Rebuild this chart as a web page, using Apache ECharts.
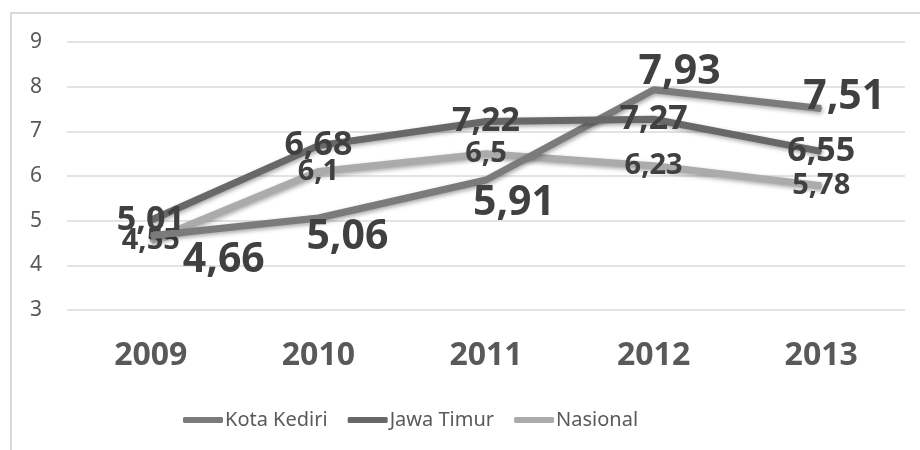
<!DOCTYPE html>
<html>
<head>
<meta charset="utf-8">
<script src="https://cdn.jsdelivr.net/npm/echarts@6/dist/echarts.min.js"></script>
<style>
  html, body { margin: 0; padding: 0; background: #fff; }
  #chart { width: 920px; height: 450px; }
</style>
</head>
<body>
<div id="chart"></div>
<script>
const years = ['2009', '2010', '2011', '2012', '2013'];
const kotaKediri = [4.66, 5.06, 5.91, 7.93, 7.51];
const jawaTimur = [5.01, 6.68, 7.22, 7.27, 6.55];
const nasional = [4.55, 6.1, 6.5, 6.23, 5.78];

// label offsets for the big Kota Kediri labels (px)
const kotaLabelOffsets = [[73, 24], [29, 19], [28, 23], [26, -17], [23, -11]];

const chart = echarts.init(document.getElementById('chart'));

const fmt = p => String(p.value).replace('.', ',');
const shadow = { shadowBlur: 4, shadowColor: 'rgba(0,0,0,0.35)', shadowOffsetX: 1, shadowOffsetY: 2 };

function lineSeries(name, data, color, z, fontSize) {
  return {
    name: name,
    type: 'line',
    data: data,
    symbol: 'circle',
    symbolSize: 2,
    showSymbol: true,
    color: color,
    itemStyle: { color: color },
    lineStyle: Object.assign({ width: 7, color: color }, shadow),
    z: z,
    label: {
      show: true,
      position: 'inside',
      formatter: fmt,
      fontSize: fontSize,
      fontWeight: 'bold',
      color: '#404040'
    }
  };
}

const option = {
  backgroundColor: '#fff',
  animation: false,
  textStyle: { fontFamily: 'Noto Sans' },
  graphic: [{
    type: 'rect',
    shape: { x: 11, y: 13, width: 940, height: 470 },
    style: { fill: 'none', stroke: '#d9d9d9', lineWidth: 2 },
    silent: true
  }],
  grid: { left: 67, right: 15, top: 42, bottom: 140 },
  legend: {
    left: 178,
    top: 405,
    itemWidth: 40,
    itemHeight: 6,
    itemGap: 20,
    icon: 'roundRect',
    textStyle: { fontSize: 20, color: '#595959', fontFamily: 'Noto Sans', padding: [0, 0, 0, -3] },
    data: ['Kota Kediri', 'Jawa Timur', 'Nasional']
  },
  xAxis: {
    type: 'category',
    data: years,
    boundaryGap: true,
    axisLine: { show: false },
    axisTick: { show: false },
    axisLabel: { fontSize: 32, fontWeight: 'bold', color: '#595959', margin: 30 }
  },
  yAxis: {
    type: 'value',
    min: 3,
    max: 9,
    interval: 1,
    axisLine: { show: false },
    axisTick: { show: false },
    axisLabel: { fontSize: 21, color: '#595959', margin: 25 },
    splitLine: { lineStyle: { color: '#e3e3e3', width: 2 } }
  },
  series: [
    lineSeries('Nasional', nasional, '#ababab', 2, 29),
    lineSeries('Kota Kediri', kotaKediri.map((v, i) => ({
      value: v,
      label: { offset: kotaLabelOffsets[i] }
    })), '#7b7b7b', 3, 41),
    lineSeries('Jawa Timur', jawaTimur, '#686868', 4, 34)
  ]
};

chart.setOption(option);
</script>
</body>
</html>
